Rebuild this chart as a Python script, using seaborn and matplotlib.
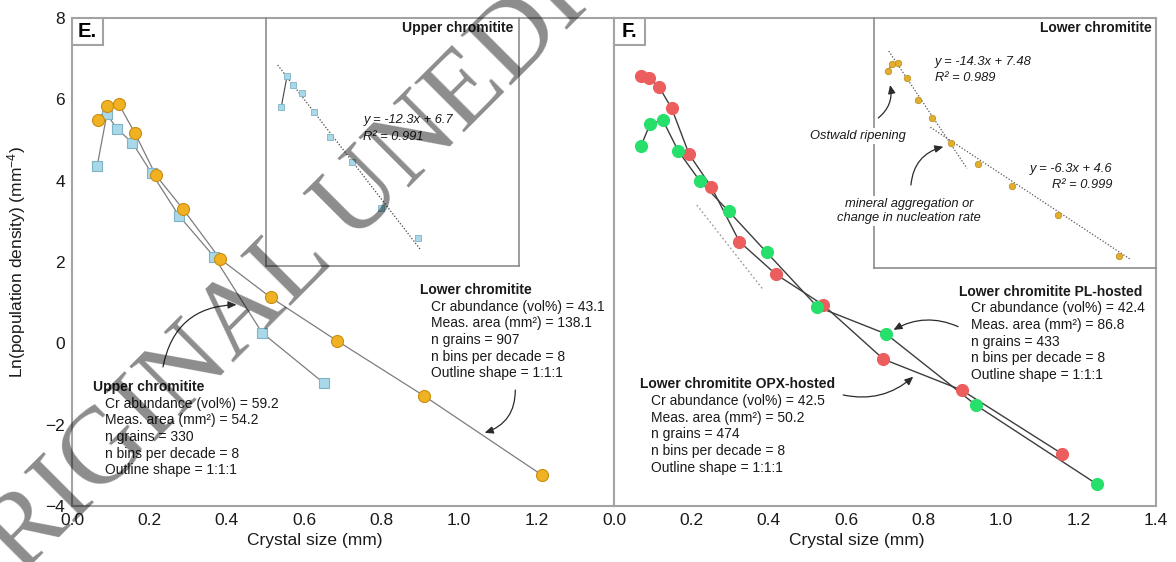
import numpy as np
import pandas as pd
import matplotlib
matplotlib.use("Agg")
import matplotlib.pyplot as plt
import seaborn as sns
from matplotlib.patches import Rectangle

# ---------------- data ----------------
upper_x = [0.065, 0.090, 0.117, 0.156, 0.206, 0.276, 0.367, 0.491, 0.651]
upper_y = [4.36, 5.63, 5.27, 4.93, 4.18, 3.14, 2.13, 0.26, -0.98]
lower_x = [0.068, 0.091, 0.121, 0.163, 0.216, 0.287, 0.382, 0.513, 0.685, 0.909, 1.214]
lower_y = [5.49, 5.84, 5.88, 5.16, 4.14, 3.30, 2.08, 1.13, 0.06, -1.29, -3.24]
opx_x = [0.069, 0.091, 0.116, 0.149, 0.194, 0.251, 0.324, 0.418, 0.541, 0.696, 0.898, 1.158]
opx_y = [6.57, 6.52, 6.31, 5.78, 4.65, 3.85, 2.50, 1.70, 0.94, -0.39, -1.15, -2.72]
pl_x = [0.070, 0.093, 0.126, 0.166, 0.222, 0.296, 0.394, 0.525, 0.703, 0.935, 1.247]
pl_y = [4.86, 5.39, 5.49, 4.73, 3.99, 3.25, 2.24, 0.90, 0.23, -1.52, -3.46]

# regression lines (slope, intercept, x-range)
upper_fit = (-12.3, 6.7, [0.05, 0.66])
lower_fit1 = (-14.3, 7.48, [0.073, 0.46])
lower_fit2 = (-6.3, 4.6, [0.279, 1.268])
guide_x = [0.214, 0.386]
guide_y = [3.40, 1.31]

x_ticks_e = [0.0, 0.2, 0.4, 0.6, 0.8, 1.0, 1.2]
x_ticks_f = [0.0, 0.2, 0.4, 0.6, 0.8, 1.0, 1.2, 1.4]
y_ticks = [-4, -2, 0, 2, 4, 6, 8]

upper_title = "Upper chromitite"
upper_info = ["Cr abundance (vol%) = 59.2", "Meas. area (mm²) = 54.2",
              "n grains = 330", "n bins per decade = 8", "Outline shape = 1:1:1"]
lower_title = "Lower chromitite"
lower_info = ["Cr abundance (vol%) = 43.1", "Meas. area (mm²) = 138.1",
              "n grains = 907", "n bins per decade = 8", "Outline shape = 1:1:1"]
pl_title = "Lower chromitite PL-hosted"
pl_info = ["Cr abundance (vol%) = 42.4", "Meas. area (mm²) = 86.8",
           "n grains = 433", "n bins per decade = 8", "Outline shape = 1:1:1"]
opx_title = "Lower chromitite OPX-hosted"
opx_info = ["Cr abundance (vol%) = 42.5", "Meas. area (mm²) = 50.2",
            "n grains = 474", "n bins per decade = 8", "Outline shape = 1:1:1"]

# ---------------- style ----------------
sns.set_style("white")
plt.rcParams["font.family"] = ["Liberation Sans", "DejaVu Sans"]
plt.rcParams["mathtext.fontset"] = "custom"
plt.rcParams["mathtext.rm"] = "Liberation Sans"
plt.rcParams["mathtext.it"] = "Liberation Sans:italic"
TXT = "#1a1a1a"
SPINE = "#a3a3a3"
BOX = "#8c8c8c"
FS_INFO = 10.0
FS_IT = 9.3

C_ORANGE, E_ORANGE = "#F0B122", "#C98E10"
C_BLUE, E_BLUE = "#A9D8E8", "#7FB3C6"
C_RED = "#EC5D5E"
C_GREEN = "#26E06B"
C_GOLD, E_GOLD = "#E3AE2E", "#B88A1A"

fig = plt.figure(figsize=(11.76, 5.62), dpi=100)
W, H = 1176.0, 562.0
axE = fig.add_axes([72 / W, 1 - 506 / H, 542 / W, 488 / H])
axF = fig.add_axes([614 / W, 1 - 506 / H, 542 / W, 488 / H])


def style_axes(ax, xticks, show_ylabels):
    ax.set_xlim(0, 1.4)
    ax.set_ylim(-4, 8)
    ax.set_xticks(xticks)
    ax.set_yticks(y_ticks)
    ax.xaxis.set_major_formatter(matplotlib.ticker.FormatStrFormatter("%.1f"))
    ax.tick_params(direction="in", length=8.5, width=1.0, color=SPINE,
                   labelsize=12.5, labelcolor=TXT, pad=5)
    if not show_ylabels:
        ax.tick_params(axis="y", labelleft=False)
    for s in ax.spines.values():
        s.set_color(SPINE)
        s.set_linewidth(1.5)
    ax.set_facecolor("white")


def series(ax, xs, ys, lc, fc, ec, marker, size, lw=0.9):
    df = pd.DataFrame({"size": xs, "lnpd": ys})
    sns.lineplot(data=df, x="size", y="lnpd", sort=False, estimator=None,
                 color=lc, linewidth=lw, ax=ax, zorder=2)
    sns.scatterplot(data=df, x="size", y="lnpd", marker=marker, s=size,
                    color=fc, edgecolor=ec, linewidth=0.8, ax=ax, zorder=3)


def info_block(ax, x, y, title, lines):
    ax.text(x, y, title, fontweight="bold", fontsize=FS_INFO, color=TXT,
            va="center", ha="left", zorder=6)
    for i, line in enumerate(lines):
        ax.annotate(line, xy=(x, y), xytext=(8.3, -(i + 1) * 12.0),
                    textcoords="offset points", fontsize=FS_INFO, color=TXT,
                    va="center", ha="left", zorder=6)


def arrow(ax, tail, head, rad, coords="data"):
    ax.annotate("", xy=head, xytext=tail, xycoords=coords, textcoords=coords,
                annotation_clip=False,
                arrowprops=dict(arrowstyle="-|>,head_length=0.5,head_width=0.22",
                                connectionstyle=f"arc3,rad={rad}",
                                color="#2b2b2b", lw=0.9, shrinkA=0, shrinkB=0),
                zorder=6)


def panel_label(ax, label):
    w, h = 31 / 542, 27 / 488
    ax.add_patch(Rectangle((0, 1 - h), w, h, transform=ax.transAxes,
                           facecolor="white", edgecolor=SPINE, lw=1.5, zorder=7))
    ax.text(w / 2, 1 - h / 2, label, transform=ax.transAxes, fontsize=14.5,
            fontweight="bold", ha="center", va="center", color="black", zorder=8)


# ---------------- panel E ----------------
style_axes(axE, x_ticks_e, True)
series(axE, upper_x, upper_y, "#7d7d7d", C_BLUE, E_BLUE, "s", 55)
series(axE, lower_x, lower_y, "#7d7d7d", C_ORANGE, E_ORANGE, "o", 75)
axE.set_xlabel("Crystal size (mm)", fontsize=12.5, color=TXT)
axE.set_ylabel(r"Ln(population density) (mm$^{-4}$)", fontsize=12.5, color=TXT)
axE.xaxis.set_label_coords(0.448, -0.056)
axE.xaxis.label.set_va("top")
axE.yaxis.set_label_coords(-0.081, 0.5)
panel_label(axE, "E.")
info_block(axE, 0.055, -1.07, upper_title, upper_info)
info_block(axE, 0.898, 1.31, lower_title, lower_info)
arrow(axE, (0.235, -0.58), (0.425, 0.95), -0.4)
arrow(axE, (1.145, -1.15), (1.066, -2.20), -0.36)

# inset E
insE = fig.add_axes([266 / W, 1 - 266 / H, 253 / W, 248 / H])
insE.set_xlim(0, 1.083)
insE.set_ylim(-2.1, 8)
insE.set_facecolor("none")
insE.set_xticks([])
insE.set_yticks([])
for k, s in insE.spines.items():
    s.set_color(BOX)
    s.set_linewidth(1.2)
insE.spines["top"].set_visible(False)
fx = np.array(upper_fit[2])
insE.plot(fx, upper_fit[0] * fx + upper_fit[1], ls=(0, (1, 1.5)), color="#444444", lw=0.9)
sns.lineplot(x=upper_x[:2], y=upper_y[:2], sort=False, estimator=None,
             color="#444444", lw=0.8, ax=insE)
sns.scatterplot(x=upper_x, y=upper_y, marker="s", s=16, color=C_BLUE,
                edgecolor=E_BLUE, linewidth=0.6, ax=insE, zorder=3)
insE.text(0.977, 0.958, "Upper chromitite", transform=insE.transAxes,
          fontsize=FS_INFO, fontweight="bold", ha="right", va="center", color=TXT)
insE.text(0.385, 0.589, "y = -12.3x + 6.7", transform=insE.transAxes,
          fontsize=FS_IT, style="italic", ha="left", va="center", color=TXT)
insE.text(0.385, 0.521, "R² = 0.991", transform=insE.transAxes,
          fontsize=FS_IT, style="italic", ha="left", va="center", color=TXT)

# ---------------- panel F ----------------
style_axes(axF, x_ticks_f, False)
axF.plot(guide_x, guide_y, ls=(0, (1.2, 1.8)), color="#9a9a9a", lw=1.0, zorder=1)
series(axF, opx_x, opx_y, "#3d3d3d", C_RED, C_RED, "o", 75, lw=1.0)
series(axF, pl_x, pl_y, "#3d3d3d", C_GREEN, C_GREEN, "o", 75, lw=1.0)
axF.set_xlabel("Crystal size (mm)", fontsize=12.5, color=TXT)
axF.xaxis.set_label_coords(0.448, -0.056)
axF.xaxis.label.set_va("top")
axF.set_ylabel("")
panel_label(axF, "F.")
info_block(axF, 0.892, 1.27, pl_title, pl_info)
info_block(axF, 0.067, -1.01, opx_title, opx_info)
arrow(axF, (0.889, 0.41), (0.722, 0.33), 0.25)
arrow(axF, (0.592, -1.27), (0.773, -0.82), 0.25)

# inset F
insF = fig.add_axes([874 / W, 1 - 268 / H, 282 / W, 250 / H])
insF.set_xlim(0, 1.395)
insF.set_ylim(-3.8, 8)
insF.set_facecolor("none")
insF.set_xticks([])
insF.set_yticks([])
for k, s in insF.spines.items():
    s.set_color(BOX)
    s.set_linewidth(1.2)
insF.spines["top"].set_visible(False)
insF.spines["right"].set_visible(False)
for slope, icpt, rng in (lower_fit1, lower_fit2):
    fx = np.array(rng)
    insF.plot(fx, slope * fx + icpt, ls=(0, (1, 1.5)), color="#555555", lw=0.9)
sns.lineplot(x=lower_x[:2], y=lower_y[:2], sort=False, estimator=None,
             color="#555555", lw=0.8, ax=insF)
sns.scatterplot(x=lower_x, y=lower_y, marker="o", s=22, color=C_GOLD,
                edgecolor=E_GOLD, linewidth=0.5, ax=insF, zorder=3)
insF.text(0.985, 0.96, "Lower chromitite", transform=insF.transAxes,
          fontsize=FS_INFO, fontweight="bold", ha="right", va="center", color=TXT)
insF.text(0.216, 0.823, "y = -14.3x + 7.48", transform=insF.transAxes,
          fontsize=FS_IT, style="italic", ha="left", va="center", color=TXT)
insF.text(0.216, 0.76, "R² = 0.989", transform=insF.transAxes,
          fontsize=FS_IT, style="italic", ha="left", va="center", color=TXT)
insF.text(0.845, 0.395, "y = -6.3x + 4.6", transform=insF.transAxes,
          fontsize=FS_IT, style="italic", ha="right", va="center", color=TXT)
insF.text(0.845, 0.332, "R² = 0.999", transform=insF.transAxes,
          fontsize=FS_IT, style="italic", ha="right", va="center", color=TXT)
bb = dict(boxstyle="square,pad=0.15", facecolor="white", edgecolor="none")
insF.text(-0.0585, 0.528, "Ostwald ripening", transform=insF.transAxes,
          fontsize=FS_IT, style="italic", ha="center", va="center", color=TXT,
          bbox=bb, clip_on=False, zorder=5)
insF.text(0.124, 0.228, "mineral aggregation or\nchange in nucleation rate",
          transform=insF.transAxes, fontsize=FS_IT, style="italic", ha="center",
          va="center", color=TXT, linespacing=1.25, bbox=bb, clip_on=False, zorder=5)
arrow(insF, (0.015, 0.60), (0.057, 0.732), 0.3, coords="axes fraction")
arrow(insF, (0.131, 0.332), (0.246, 0.485), -0.35, coords="axes fraction")

# watermark
fig.text(-0.0298, -0.123, "ORIGINAL UNEDITED MANUSCRIPT", fontsize=78,
         family=["Liberation Serif", "DejaVu Serif"], color="black", alpha=0.45,
         rotation=45, rotation_mode="anchor", ha="left", va="baseline", zorder=20)

fig.savefig("out.png", dpi=100)
